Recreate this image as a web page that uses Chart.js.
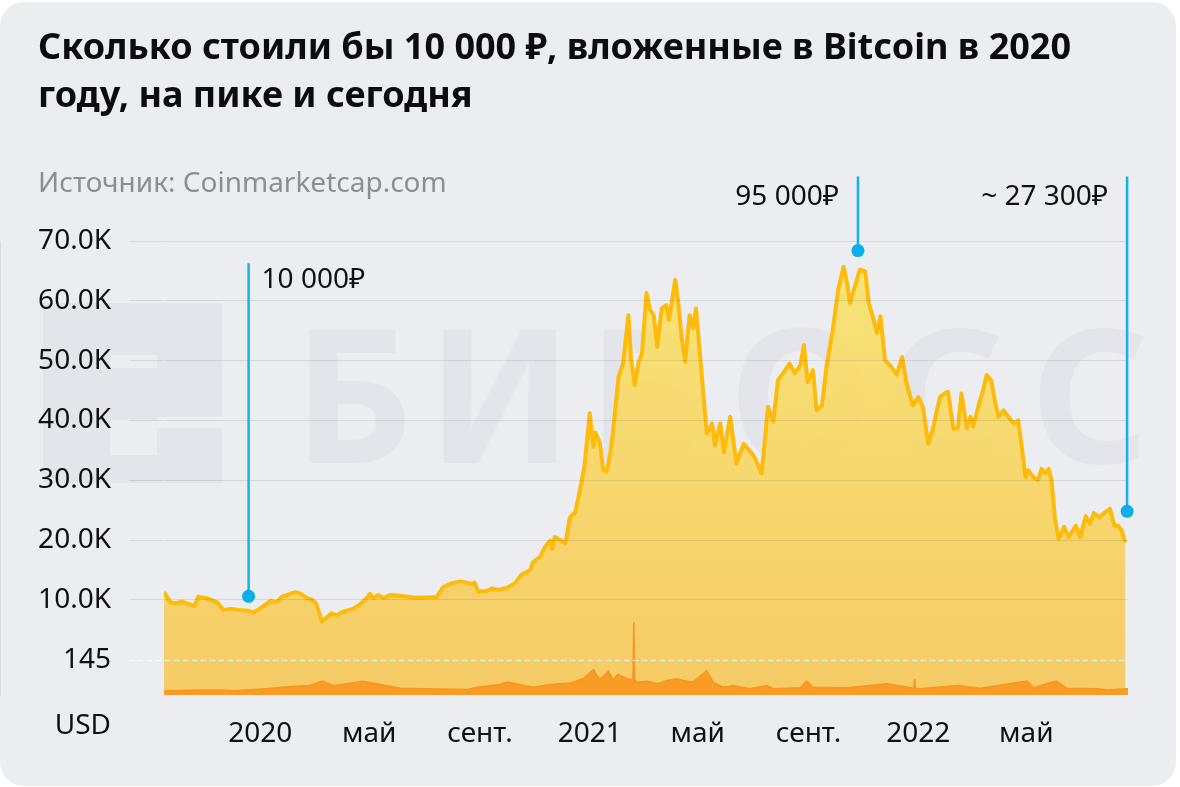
<!DOCTYPE html>
<html>
<head>
<meta charset="utf-8">
<script src="https://cdn.jsdelivr.net/npm/chart.js@4"></script>
<style>
  body { margin: 0; width: 1180px; height: 787px; overflow: hidden; position: relative; background: #fff;
         font-family: "Noto Sans", "DejaVu Sans", sans-serif; }
  #card { position: absolute; left: 0; top: 2px; width: 1176px; height: 784px; background: #ecedf1; border-radius: 24px; }
  #chart { position: absolute; left: 0; top: 0; }
  h1 { position: absolute; left: 38px; top: 22px; margin: 0; font-size: 36px; line-height: 48px; font-weight: 700; color: #0c0c0c; }
  .src { position: absolute; left: 38px; top: 165px; font-size: 28px; line-height: 32px; color: #8d8e93; }
</style>
</head>
<body>
<div id="card"></div>
<canvas id="chart" width="1180" height="787"></canvas>
<h1>Сколько стоили бы 10 000 ₽, вложенные в Bitcoin в 2020<br>году, на пике и сегодня</h1>
<div class="src">Источник: Coinmarketcap.com</div>

<script>
/* global Chart */

// ── Data ─────────────────────────────────────────────
// x = days since 16 Sep 2019

const priceDays = [
  0,7,12,20,25,34,38,47,59,66, 75,84,93,99,104,110,118,125,131,136,
  146,151,159,165,169,173,175,181,186,192, 197,203,210,218,225,229,233,238,244,251,
  262,277,292,303,310,318,329,342,345,349, 359,364,371,381,390,397,407,410,418,423,
  429,431,434,446,451,457,462,467,473,477, 479,484,488,492,496,499,505,510,516,519,
  523,527,531,536,540,544,548,553,558,561, 568,571,575,579,584,588,591,596,603,609,
  612,618,622,629,636,644,653,657,664,671, 677,682,688,695,701,707,711,715,721,725,
  731,736,743,749,755,759,762,768,773,779, 783,787,792,796,801,808,814,820,825,832,
  838,843,849,854,862,867,871,877,882,886, 892,896,899,905,910,914,919,923,927,933,
  938,944,949,953,957,960,966,971,975,979, 983,986,990,994,1000,1005,1013,1018,1024,1029,
  1033,1039,1046,1051,1056,1060,1064,1068,
];

// BTC price, USD
const prices = [
  11300,9600,9400,9700,9400,9000,10550,10300,9600,8300, 8500,8300,8200,7900,8300,8900,9800,9600,10550,10800,
  11300,11100,10300,10000,9400,7650,6400,7100,7750,7400, 7900,8200,8500,9300,10300,11000,10300,10800,10300,10800,
  10700,10400,10400,10500,12100,12700,13100,12700,12900,11400, 11500,11900,11700,12000,12800,14200,15000,16300,17250,18800,
  19900,18500,20500,19500,23800,24700,28300,32200,41200,35600, 38000,36400,31700,31500,34700,38400,47300,49500,57600,50100,
  45900,49500,51200,61300,58500,57600,52300,58700,59300,56800, 63500,60100,54000,49800,57600,55400,58700,50100,37800,39500,
  35800,39500,34700,40600,32800,36100,34500,33600,31100,42300, 39800,46700,47900,49500,47900,49200,52600,46400,48400,41700,
  42500,49000,55100,61800,65700,62900,59600,62600,65200,64900, 59600,57600,54600,57400,50100,49000,47600,50600,46200,42500,
  43900,42300,36100,38400,43900,44500,44800,38600,38700,44500, 38700,40600,39000,42500,45100,47600,46700,43400,40600,41700,
  40600,39500,40000,35600,30500,31700,30500,30000,31900,31200, 31900,30000,23300,20200,22200,20500,22400,20500,24000,22700,
  24500,23800,24700,25200,22400,22400,21600,19600,
];

// trading volume, bn USD
const volDays = [
  0,40,62,77,114,140,162,176,188,221, 262,337,348,373,381,410,429,451,466,477,
  484,494,499,504,514,521,522,523,526,537, 548,559,570,577,588,603,610,621,632,651,
  670,677,707,714,721,759,803,833,834,835, 840,882,907,959,966,991,1003,1037,1048,1071,
];
const volumes = [
  16,21,21,18,26,35,39,57,38,57, 28,23,32,43,53,32,43,49,68,104,
  64,98,60,85,68,62,300,60,53,57, 46,60,67,60,53,100,53,32,39,26,
  39,26,30,57,32,30,46,28,67,26, 26,39,28,57,30,57,28,26,21,26,
];
const volumeMark = 145;

const yTicks = [0, 10000, 20000, 30000, 40000, 50000, 60000, 70000];
const xTickDays = [107, 228, 351, 473, 593, 716, 838, 958];
const xTickLabels = ['2020', 'май', 'сент.', '2021', 'май', 'сент.', '2022', 'май'];

// annotations: day, price at the dot, price at the top of the stem
const annDays   = [94, 771, 1070];
const annPrices = [10600, 68400, 24800];
const annTops   = [66300, 80800, 80800];
const annLabels = ['10 000₽', '95 000₽', '~ 27 300₽'];
const annSides  = ['right', 'left', 'left'];

// ── Styling ──────────────────────────────────────────

const FF = '"Noto Sans", "DejaVu Sans", sans-serif';
const INK = '#101010';
const CYAN = '#12b2ea';

function fillGradient(ctx) {
  const a = ctx.chart.chartArea;
  if (!a) return 'rgba(247,212,100,.92)';
  const g = ctx.chart.ctx.createLinearGradient(0, a.top, 0, a.bottom);
  g.addColorStop(0, 'rgba(248,228,112,.93)');
  g.addColorStop(1, 'rgba(246,200,90,.93)');
  return g;
}

const watermark = {
  id: 'watermark',
  beforeDatasetsDraw(chart) {
    const c = chart.ctx;
    c.save();
    c.fillStyle = 'rgba(20,25,60,.035)';
    [[43, 303, 67, 180], [110, 303, 47, 52], [110, 368, 47, 52], [157, 303, 65, 114], [157, 428, 65, 55], [110, 455, 47, 28]]
      .forEach(r => c.fillRect(r[0], r[1], r[2], r[3]));
    c.font = '700 186px ' + FF;
    c.textAlign = 'center';
    c.textBaseline = 'alphabetic';
    [['Б', 353], ['И', 500], ['Б', 647], ['О', 801], ['С', 945], ['С', 1090]]
      .forEach(([ch, x]) => c.fillText(ch, x, 463));
    c.restore();
  },
};

const marks = {
  id: 'marks',
  afterDraw(chart) {
    const c = chart.ctx, xs = chart.scales.x, ys = chart.scales.y;
    c.save();
    // dashed volume reference line
    const y0 = Math.round(ys.getPixelForValue(0)) + 0.5;
    c.strokeStyle = 'rgba(255,255,255,.95)';
    c.lineWidth = 1.2;
    c.setLineDash([5, 4]);
    c.beginPath(); c.moveTo(ys.right - 35, y0); c.lineTo(chart.chartArea.right, y0); c.stroke();
    c.setLineDash([]);

    annDays.forEach((d, i) => {
      const x = xs.getPixelForValue(d);
      const yd = ys.getPixelForValue(annPrices[i]);
      const yt = ys.getPixelForValue(annTops[i]);
      c.strokeStyle = CYAN; c.lineWidth = 2.5;
      c.beginPath(); c.moveTo(x, yt); c.lineTo(x, yd); c.stroke();
      c.fillStyle = '#0aaeea';
      c.beginPath(); c.arc(x, yd, 6.5, 0, Math.PI * 2); c.fill();
      c.fillStyle = INK;
      c.font = '28px ' + FF;
      c.textBaseline = 'alphabetic';
      if (annSides[i] === 'right') { c.textAlign = 'left';  c.fillText(annLabels[i], x + 13, yt + 25); }
      else                         { c.textAlign = 'right'; c.fillText(annLabels[i], x - 19, yt + 29); }
    });

    // unit label under the y axis
    c.fillStyle = INK;
    c.font = '28px ' + FF;
    c.textAlign = 'right';
    c.textBaseline = 'middle';
    c.fillText('USD', ys.right - 35 - 18, chart.chartArea.bottom + 31);
    c.restore();
  },
};

new Chart(document.getElementById('chart'), {
  type: 'line',
  data: {
    datasets: [
      {
        label: 'Volume', yAxisID: 'y2',
        data: volDays.map((d, i) => ({ x: d, y: volumes[i] })),
        borderColor: '#f8961f', backgroundColor: '#f99c26', borderWidth: 1.5,
        fill: 'start', pointRadius: 0, tension: 0,
      },
      {
        label: 'BTC', yAxisID: 'y',
        data: priceDays.map((d, i) => ({ x: d, y: prices[i] })),
        borderColor: '#ffbb0c', backgroundColor: fillGradient, borderWidth: 4,
        borderJoinStyle: 'round', fill: 'start', pointRadius: 0, tension: 0,
      },
    ],
  },
  options: {
    responsive: false, animation: false, devicePixelRatio: 1,
    layout: { padding: { left: 0, right: 52, top: 241, bottom: 0 } },
    plugins: { legend: { display: false }, tooltip: { enabled: false } },
    scales: {
      x: {
        type: 'linear', min: 0, max: 1071,
        afterBuildTicks: s => { s.ticks = xTickDays.map(v => ({ value: v })); },
        afterFit: s => { s.height = 92; },
        grid: { display: false },
        border: { display: false },
        ticks: {
          autoSkip: false, maxRotation: 0, padding: 14, color: INK,
          font: { family: FF, size: 28 },
          callback: v => xTickLabels[xTickDays.indexOf(v)],
        },
      },
      y: {
        min: -5900, max: 70000,
        afterBuildTicks: s => { s.ticks = yTicks.map(v => ({ value: v })); },
        afterFit: s => { s.width = 164; },
        grid: {
          z: 1, tickLength: 35,
          color: c => (c.tick && c.tick.value === 0) ? 'rgba(0,0,0,0)' : 'rgba(20,25,50,.1)',
          tickColor: c => (c.tick && c.tick.value === 0) ? 'rgba(0,0,0,0)' : 'rgba(20,25,50,.1)',
        },
        border: { display: true, color: 'rgba(20,25,50,.16)', width: 1 },
        ticks: {
          padding: 18, color: INK,
          font: { family: FF, size: 28 },
          callback: v => v === 0 ? String(volumeMark) : (v / 1000).toFixed(1) + 'K',
        },
      },
      y2: { display: false, min: 0, max: 1870 },
    },
  },
  plugins: [watermark, marks],
});
</script>
</body>
</html>
